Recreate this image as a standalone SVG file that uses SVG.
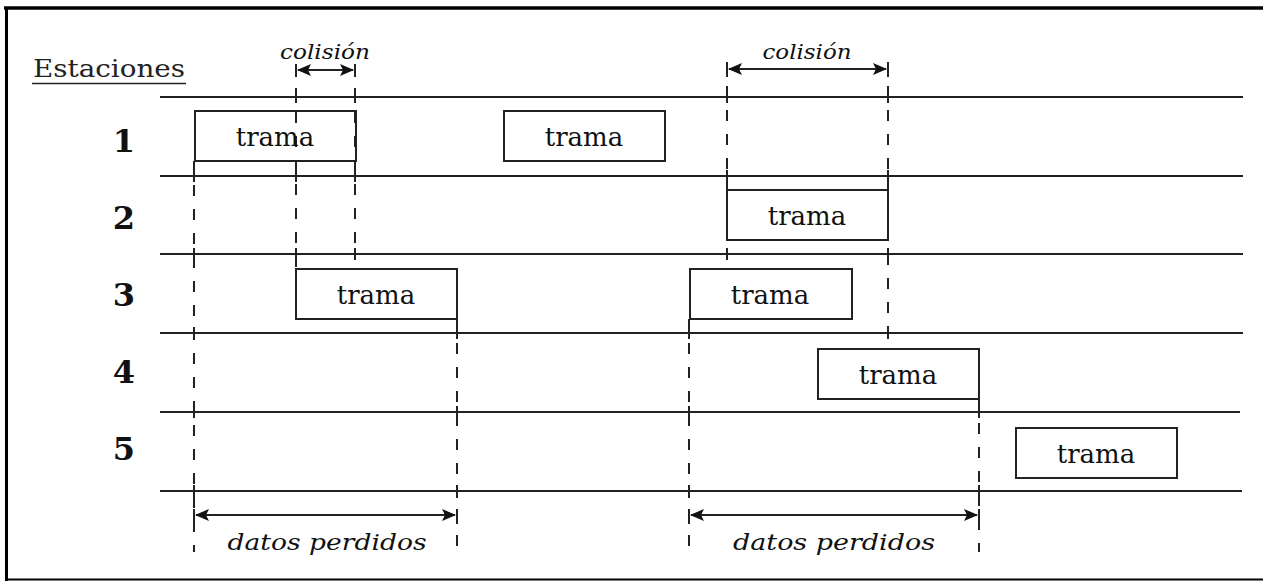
<svg xmlns="http://www.w3.org/2000/svg" width="1263" height="581" viewBox="0 0 1263 581">
<style>
.bg{fill:#fff}
.frame{stroke:#000;fill:none}
.hl{stroke:#222;stroke-width:2;fill:none}
.box{fill:#fff;stroke:#222;stroke-width:2}
.dash{stroke:#222;stroke-width:2;stroke-dasharray:11 13;fill:none}
.tick{stroke:#222;stroke-width:2;fill:none}
.arr{stroke:#222;stroke-width:2;fill:none;marker-start:url(#ah);marker-end:url(#ah)}
.t{font-family:"DejaVu Serif","Liberation Serif",serif;font-size:26px;fill:#111;text-anchor:middle}
.num{font-family:"DejaVu Serif","Liberation Serif",serif;font-size:32px;font-weight:bold;fill:#111;text-anchor:middle}
.it{font-family:"DejaVu Serif","Liberation Serif",serif;font-style:italic;fill:#111;text-anchor:middle}
.lab{font-family:"DejaVu Serif","Liberation Serif",serif;font-size:25px;fill:#222}
</style>
<defs>
<marker id="ah" viewBox="0 0 14 12" refX="13" refY="6" markerWidth="14" markerHeight="12" markerUnits="userSpaceOnUse" orient="auto-start-reverse">
<path d="M0,0 L14,6 L0,12 L3,6 Z" fill="#111"/>
</marker>
</defs>
<rect class="bg" x="0" y="0" width="1263" height="581"/>
<g id="frame">
<line class="frame" x1="4" y1="8" x2="1263" y2="8" stroke-width="3.5"/>
<line class="frame" x1="6.5" y1="7" x2="6.5" y2="581" stroke-width="3"/>
<line class="frame" x1="5" y1="579.5" x2="1263" y2="579.5" stroke-width="2"/>
</g>
<g id="header">
<text class="lab" x="33" y="77" textLength="152" lengthAdjust="spacingAndGlyphs">Estaciones</text>
<line x1="32" y1="83.5" x2="186" y2="83.5" stroke="#222" stroke-width="1.5"/>
</g>
<g id="timelines">
<line class="hl" x1="160" y1="97" x2="1243" y2="97"/>
<line class="hl" x1="160" y1="176" x2="1243" y2="176"/>
<line class="hl" x1="160" y1="254" x2="1243" y2="254"/>
<line class="hl" x1="160" y1="333" x2="1243" y2="333"/>
<line class="hl" x1="160" y1="412" x2="1240" y2="412"/>
<line class="hl" x1="160" y1="491" x2="1242" y2="491"/>
</g>
<g id="stations">
<text class="num" x="124" y="152">1</text>
<text class="num" x="124" y="229">2</text>
<text class="num" x="124" y="306">3</text>
<text class="num" x="124" y="383">4</text>
<text class="num" x="124" y="460">5</text>
</g>
<g id="connectors">
<path class="dash" d="M194,161 V552"/>
<path class="dash" d="M296,64 V269"/>
<path class="dash" d="M355,64 V254"/>
<path class="dash" d="M457,319 V552"/>
<path class="dash" d="M689,319 V552"/>
<path class="dash" d="M727,62 V254"/>
<path class="dash" d="M888,62 V333"/>
<path class="dash" d="M979,399 V552"/>
<path class="tick" d="M194,170V182 M194,248V260 M194,327V339 M194,406V418 M194,485V497 M194,509V524 M296,91V103 M296,170V182 M296,248V260 M355,91V103 M355,170V182 M355,248V260 M457,327V339 M457,406V418 M457,485V497 M457,509V524 M689,327V339 M689,406V418 M689,485V497 M689,509V524 M727,91V103 M727,170V182 M727,248V260 M888,91V103 M888,170V182 M888,248V260 M888,327V339 M979,406V418 M979,485V497 M979,509V524 M296,64V77 M355,64V77 M727,62V77 M888,62V77"/>
<line class="arr" x1="298" y1="70" x2="353" y2="70"/>
<line class="arr" x1="729" y1="69" x2="886" y2="69"/>
<line class="arr" x1="196" y1="515" x2="455" y2="515"/>
<line class="arr" x1="691" y1="515" x2="977" y2="515"/>
<text class="it" x="325" y="59" font-size="20" textLength="90" lengthAdjust="spacingAndGlyphs">colisión</text>
<text class="it" x="807" y="59" font-size="20" textLength="89" lengthAdjust="spacingAndGlyphs">colisión</text>
<text class="it" x="327" y="550" font-size="23" textLength="199" lengthAdjust="spacingAndGlyphs">datos perdidos</text>
<text class="it" x="834" y="550" font-size="23" textLength="202" lengthAdjust="spacingAndGlyphs">datos perdidos</text>
</g>
<g id="s1-trama-a">
<rect class="box" x="195" y="111" width="161" height="50" fill-opacity="0"/>
<text class="t" x="275" y="146">trama</text>
</g>
<g id="s1-trama-b">
<rect class="box" x="504" y="111" width="161" height="50"/>
<text class="t" x="584" y="146">trama</text>
</g>
<g id="s2-trama">
<rect class="box" x="727" y="190" width="161" height="50"/>
<text class="t" x="807" y="225">trama</text>
</g>
<g id="s3-trama-a">
<rect class="box" x="296" y="269" width="161" height="50"/>
<text class="t" x="376" y="304">trama</text>
</g>
<g id="s3-trama-b">
<rect class="box" x="690" y="269" width="162" height="50"/>
<text class="t" x="770" y="304">trama</text>
</g>
<g id="s4-trama">
<rect class="box" x="818" y="349" width="161" height="50"/>
<text class="t" x="898" y="384">trama</text>
</g>
<g id="s5-trama">
<rect class="box" x="1016" y="428" width="161" height="50"/>
<text class="t" x="1096" y="463">trama</text>
</g>
</svg>
